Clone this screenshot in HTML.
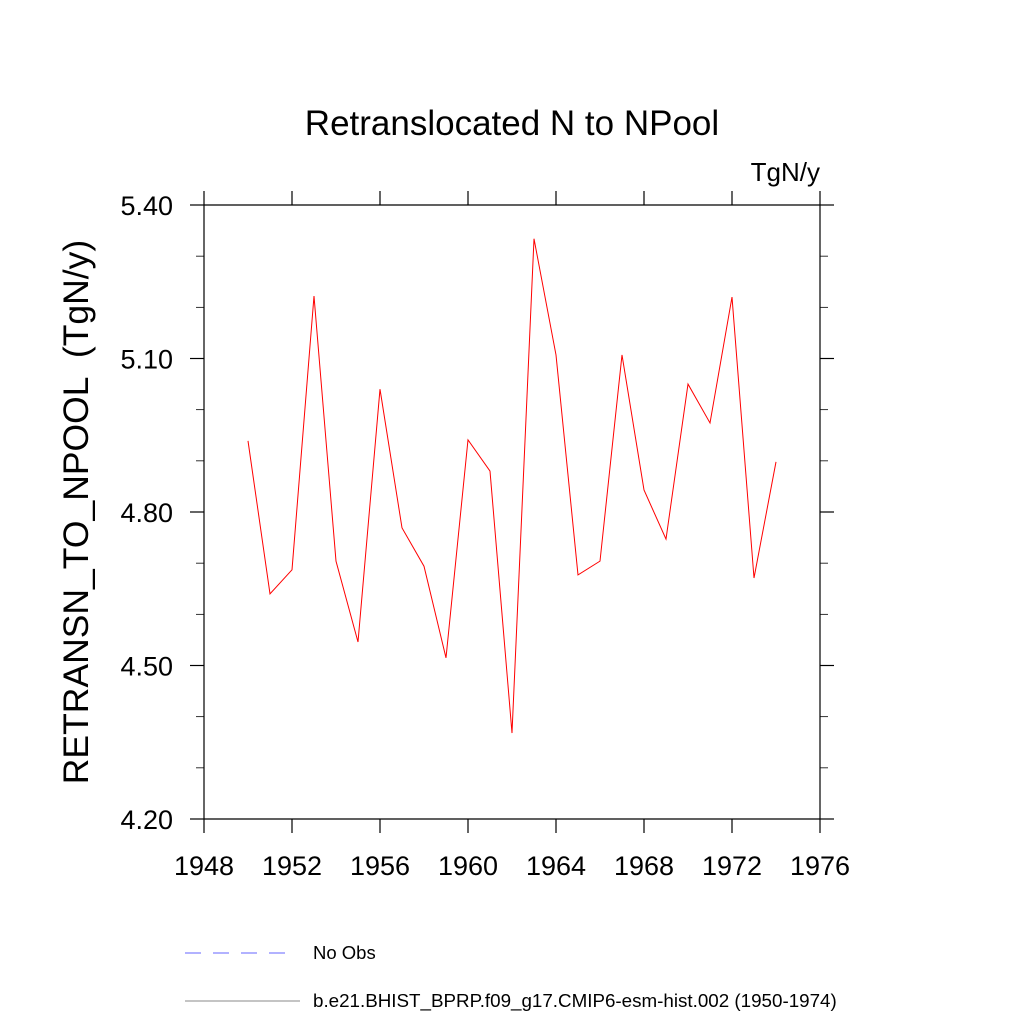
<!DOCTYPE html>
<html><head><meta charset="utf-8"><style>
body{margin:0;background:#fff}
svg{display:block;font-family:"Liberation Sans",sans-serif}
</style></head><body>
<svg id="chart" width="1024" height="1024" viewBox="0 0 1024 1024">
<text x="512" y="135" font-size="35" text-anchor="middle">Retranslocated N to NPool</text>
<text x="820" y="181" font-size="26" text-anchor="end">TgN/y</text>
<text transform="translate(88,512) rotate(-90)" font-size="35.5" text-anchor="middle" xml:space="preserve">RETRANSN_TO_NPOOL  (TgN/y)</text>
<g id="axes"></g>
<polyline id="series" fill="none" stroke="#ff0000" stroke-width="1"></polyline>
<line x1="185" y1="953" x2="292" y2="953" stroke="#6666ff" stroke-width="1" stroke-dasharray="16,12"/>
<text x="313" y="959" font-size="18.5">No Obs</text>
<line x1="185" y1="1001" x2="300" y2="1001" stroke="#888" stroke-width="1"/>
<text x="313" y="1007" font-size="18.8">b.e21.BHIST_BPRP.f09_g17.CMIP6-esm-hist.002 (1950-1974)</text>
</svg>
<script>
const years=[1950,1951,1952,1953,1954,1955,1956,1957,1958,1959,1960,1961,1962,1963,1964,1965,1966,1967,1968,1969,1970,1971,1972,1973,1974];
const values=[4.939,4.640,4.687,5.222,4.704,4.546,5.040,4.769,4.694,4.515,4.941,4.880,4.368,5.334,5.107,4.677,4.704,5.107,4.843,4.747,5.050,4.974,5.220,4.671,4.898];
const xTicks=[1948,1952,1956,1960,1964,1968,1972,1976];
const yTicks=[4.20,4.50,4.80,5.10,5.40];
const yMinor=[4.30,4.40,4.60,4.70,4.90,5.00,5.20,5.30];
const L=204,R=820,T=205,B=819;
const xs=v=>L+(v-1948)/(1976-1948)*(R-L);
const ys=v=>B-(v-4.2)/(1.2)*(B-T);
const NS='http://www.w3.org/2000/svg';
const g=document.getElementById('axes');
function ln(x1,y1,x2,y2,name,w){const l=document.createElementNS(NS,'line');
l.setAttribute('x1',x1);l.setAttribute('y1',y1);l.setAttribute('x2',x2);l.setAttribute('y2',y2);
l.setAttribute('stroke','#000');l.setAttribute('stroke-width',w||1.2);


g.appendChild(l);}
function tx(x,y,s,anchor,name){const t=document.createElementNS(NS,'text');
t.setAttribute('x',x);t.setAttribute('y',y);t.setAttribute('font-size','27');t.setAttribute('text-anchor',anchor);t.textContent=s;


g.appendChild(t);}
ln(L,T,R,T,'plot-frame-top');ln(L,B,R,B,'plot-frame-bottom');ln(L,T,L,B,'plot-frame-left');ln(R,T,R,B,'plot-frame-right');
xTicks.forEach(v=>{const x=xs(v);ln(x,B,x,B+14,'x-tick');ln(x,T,x,T-14,'x-tick-top');tx(x,B+56,String(v),'middle','x-tick-label');});
yTicks.forEach(v=>{const y=ys(v);ln(L-14,y,L,y,'y-tick');ln(R,y,R+14,y,'y-tick-right');tx(L-31,y+10,v.toFixed(2),'end','y-tick-label');});
yMinor.forEach(v=>{const y=ys(v);ln(L-8,y,L,y,'y-minor-tick',0.8);ln(R,y,R+8,y,'y-minor-tick-right',0.8);});
document.getElementById('series').setAttribute('points',years.map((y,i)=>xs(y)+','+ys(values[i])).join(' '));
</script>
</body></html>
